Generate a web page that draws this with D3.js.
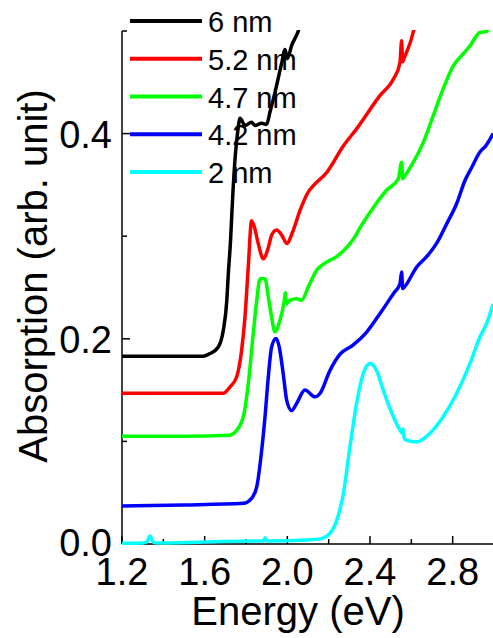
<!DOCTYPE html>
<html><head><meta charset="utf-8">
<script src="https://cdn.jsdelivr.net/npm/d3@7"></script>
<style>body{margin:0;background:#fff}svg{display:block}text{font-family:"Liberation Sans",Arial,sans-serif;fill:#000}</style>
</head><body>
<svg id="c" width="493" height="638"></svg>
<script>
const seriesNames = ["6 nm","5.2 nm","4.7 nm","4.2 nm","2 nm"];
const seriesColors = ["#000000","#ff0000","#00ff00","#0000ff","#00ffff"];
const xTicksMajor = [1.2,1.6,2.0,2.4,2.8];
const xTicksMinor = [1.4,1.8,2.2,2.6,3.0];
const yTicksMajor = [0.0,0.2,0.4];
const yTicksMinor = [0.1,0.3,0.5];

const s6 = [[1.20,0.183],[1.40,0.183],[1.55,0.183],[1.592,0.183],[1.626,0.1856],[1.666,0.192],[1.690,0.208],[1.707,0.237],[1.714,0.262],[1.725,0.295],[1.736,0.34],[1.748,0.378],[1.760,0.402],[1.771,0.415],[1.795,0.408],[1.827,0.411],[1.843,0.408],[1.876,0.410],[1.900,0.409],[1.916,0.421],[1.940,0.440],[1.973,0.469],[1.989,0.482],[2.000,0.473],[2.021,0.486],[2.053,0.500],[2.08,0.52]];
const s52 = [[1.20,0.147],[1.50,0.147],[1.690,0.147],[1.722,0.153],[1.755,0.163],[1.779,0.189],[1.795,0.221],[1.811,0.270],[1.827,0.315],[1.843,0.307],[1.859,0.293],[1.884,0.278],[1.908,0.289],[1.924,0.301],[1.948,0.306],[1.973,0.301],[1.997,0.293],[2.029,0.306],[2.061,0.325],[2.077,0.333],[2.101,0.343],[2.125,0.349],[2.19,0.362],[2.271,0.388],[2.335,0.4046],[2.448,0.437],[2.513,0.453],[2.545,0.469],[2.553,0.4905],[2.558,0.47],[2.564,0.473],[2.609,0.4986],[2.63,0.52]];
const s47 = [[1.20,0.105],[1.50,0.105],[1.722,0.106],[1.747,0.109],[1.787,0.124],[1.811,0.156],[1.835,0.205],[1.852,0.2375],[1.868,0.2586],[1.892,0.2586],[1.908,0.2407],[1.924,0.221],[1.940,0.2066],[1.964,0.218],[1.985,0.237],[1.99,0.245],[1.995,0.234],[2.013,0.2375],[2.045,0.239],[2.069,0.2375],[2.101,0.2504],[2.142,0.2667],[2.19,0.2747],[2.23,0.279],[2.271,0.2855],[2.319,0.297],[2.36,0.311],[2.42,0.329],[2.481,0.345],[2.537,0.356],[2.553,0.372],[2.558,0.356],[2.564,0.3575],[2.609,0.372],[2.658,0.3915],[2.706,0.4175],[2.754,0.4435],[2.803,0.466],[2.851,0.4776],[2.884,0.4856],[2.932,0.4986],[2.965,0.4995],[3.0,0.53]];
const s42 = [[1.20,0.037],[1.50,0.038],[1.787,0.0396],[1.827,0.0445],[1.852,0.0558],[1.876,0.0915],[1.892,0.124],[1.908,0.163],[1.924,0.192],[1.945,0.2002],[1.961,0.192],[1.980,0.166],[1.997,0.140],[2.021,0.130],[2.045,0.137],[2.085,0.150],[2.134,0.1434],[2.158,0.1467],[2.206,0.169],[2.255,0.185],[2.319,0.194],[2.384,0.2066],[2.448,0.2245],[2.513,0.244],[2.545,0.2537],[2.553,0.265],[2.558,0.249],[2.566,0.2504],[2.626,0.27],[2.674,0.28],[2.722,0.293],[2.771,0.312],[2.819,0.3316],[2.859,0.354],[2.892,0.367],[2.932,0.382],[2.96,0.388],[2.996,0.4]];
const s2 = [[1.20,0.0007],[1.30,0.001],[1.32,0.002],[1.335,0.0078],[1.35,0.002],[1.37,0.001],[1.60,0.002],[1.85,0.003],[1.885,0.003],[1.892,0.006],[1.90,0.003],[2.10,0.004],[2.158,0.005],[2.206,0.0104],[2.239,0.023],[2.271,0.049],[2.303,0.0947],[2.335,0.137],[2.367,0.166],[2.40,0.176],[2.432,0.169],[2.464,0.15],[2.513,0.124],[2.545,0.111],[2.555,0.108],[2.56,0.112],[2.565,0.104],[2.577,0.101],[2.626,0.0996],[2.69,0.108],[2.754,0.124],[2.819,0.1467],[2.884,0.176],[2.932,0.2018],[2.964,0.2148],[2.996,0.234]];
const allSeries = [s6,s52,s47,s42,s2];

const svg = d3.select("#c");
const L=122, R=494, T=31, B=544;
const x = d3.scaleLinear().domain([1.2,3.0]).range([L,R]);
const y = d3.scaleLinear().domain([0,0.5]).range([B,T]);

svg.append("clipPath").attr("id","clip").append("rect")
  .attr("x",L).attr("y",T-1).attr("width",R-L).attr("height",B-T+5);

// axes
const ax = svg.append("g").attr("stroke","#000").attr("stroke-width",1.5);
ax.append("line").attr("x1",L).attr("x2",L).attr("y1",T).attr("y2",B);
ax.append("line").attr("x1",L).attr("x2",R).attr("y1",B).attr("y2",B);
xTicksMajor.forEach(v=>ax.append("line").attr("x1",x(v)).attr("x2",x(v)).attr("y1",B).attr("y2",B-8));
xTicksMinor.forEach(v=>ax.append("line").attr("x1",x(v)).attr("x2",x(v)).attr("y1",B).attr("y2",B-5));
yTicksMajor.forEach(v=>ax.append("line").attr("x1",L).attr("x2",L+8).attr("y1",y(v)).attr("y2",y(v)));
yTicksMinor.forEach(v=>ax.append("line").attr("x1",L).attr("x2",L+5).attr("y1",y(v)).attr("y2",y(v)));

xTicksMajor.forEach(v=>svg.append("text").attr("x",x(v)).attr("y",585)
  .attr("text-anchor","middle").attr("font-size",38).text(v.toFixed(1)));
yTicksMajor.forEach(v=>svg.append("text").attr("x",112).attr("y",y(v)+(v===0?12:14))
  .attr("text-anchor","end").attr("font-size",38).text(v.toFixed(1)));

svg.append("text").attr("x",298).attr("y",625).attr("text-anchor","middle")
  .attr("font-size",40).text("Energy (eV)");
svg.append("text").attr("transform","translate(47,276) rotate(-90)").attr("text-anchor","middle")
  .attr("font-size",40).text("Absorption (arb. unit)");

// legend
const leg = svg.append("g");
seriesNames.forEach((n,i)=>{
  const ly = 21 + i*37.75;
  leg.append("line").attr("x1",130).attr("x2",202).attr("y1",ly).attr("y2",ly)
    .attr("stroke",seriesColors[i]).attr("stroke-width",4);
  leg.append("text").attr("x",208).attr("y",ly+11).attr("font-size",29).text(n);
});

// curves
const line = d3.line().x(d=>x(d[0])).y(d=>y(d[1])).curve(d3.curveMonotoneX);
const g = svg.append("g").attr("clip-path","url(#clip)");
allSeries.forEach((s,i)=>{
  g.append("path").attr("d",line(s)).attr("fill","none")
    .attr("stroke",seriesColors[i]).attr("stroke-width",3.5)
    .attr("stroke-linejoin","round");
});
</script>
</body></html>
